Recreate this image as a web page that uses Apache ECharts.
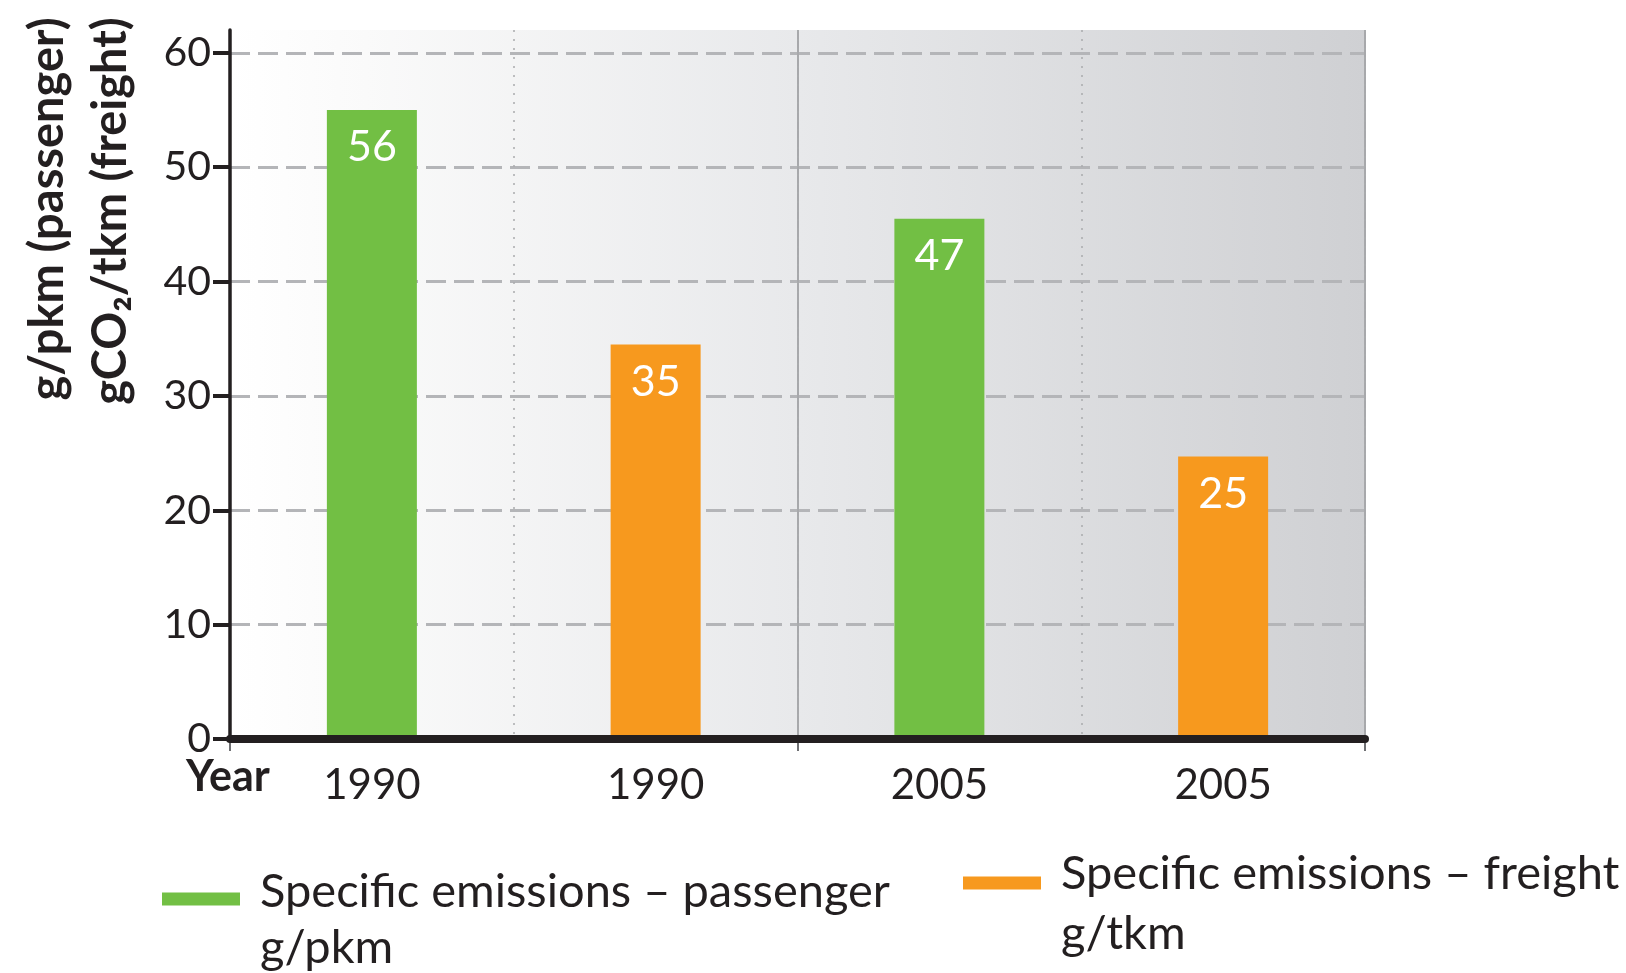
<!DOCTYPE html>
<html>
<head>
<meta charset="utf-8">
<script src="https://cdn.jsdelivr.net/npm/echarts@6/dist/echarts.min.js"></script>
<style>
  html, body { margin: 0; padding: 0; background: #ffffff; }
  #chart { width: 1626px; height: 973px; }
</style>
</head>
<body>
<div id="chart"></div>
<script>
// ---- data ----
var categories = ['1990', '1990', '2005', '2005'];
var groupYears = ['1990', '2005'];
var passengerValues = [55.0, null, 45.5, null];   // drawn bar heights
var freightValues = [null, 34.5, null, 24.7];     // drawn bar heights
var passengerPrinted = ['56', null, '47', null];  // printed labels
var freightPrinted = [null, '35', null, '25'];
var yTickMin = 0, yTickMax = 60, yTickStep = 10;  // labelled ticks
var yAxisTop = 62;                                // plot area reaches a little above 60
var yTitleLine1 = 'g/pkm (passenger)';
var yTitleLine2 = 'gCO\u2082/tkm (freight)';
var xTitle = 'Year';
var passengerName = 'Specific emissions \u2013 passenger\ng/pkm';
var freightName = 'Specific emissions \u2013 freight\ng/tkm';

var FONT = 'Lato, "Noto Sans", sans-serif';
var INK = '#231f20';
var GREEN = '#72bf44';
var ORANGE = '#f7991e';

var GRID_LEFT = 230, GRID_RIGHT = 261, GRID_TOP = 30, GRID_BOTTOM = 234, H = 973;
var plotH = H - GRID_TOP - GRID_BOTTOM;
var grid2Top = GRID_TOP + plotH * (yAxisTop - yTickMax) / (yAxisTop - yTickMin);

var chart = echarts.init(document.getElementById('chart'), null, { renderer: 'canvas' });

function legendText(lh) {
  return {
    fontFamily: FONT, fontSize: 47, color: INK, lineHeight: lh, padding: [0, 0, 0, 15],
    rich: {
      gap: { fontSize: 10, lineHeight: 42 },
      t: { fontFamily: FONT, fontSize: 47, color: INK, lineHeight: lh }
    }
  };
}
function legendFormatter(name) {
  var parts = name.split('\n');
  return '{gap| }\n' + parts.map(function (s) { return '{t|' + s + '}'; }).join('\n');
}

var option = {
  animation: false,
  backgroundColor: '#ffffff',
  textStyle: { fontFamily: FONT },
  grid: [
    {
      left: GRID_LEFT, right: GRID_RIGHT, top: GRID_TOP, bottom: GRID_BOTTOM,
      show: true,
      borderWidth: 0,
      backgroundColor: new echarts.graphic.LinearGradient(0, 0, 1, 0, [
        { offset: 0, color: '#ffffff' },
        { offset: 0.12, color: '#fafafa' },
        { offset: 0.5, color: '#e8e9eb' },
        { offset: 1, color: '#cfd0d3' }
      ])
    },
    {
      left: GRID_LEFT, right: GRID_RIGHT, top: grid2Top, bottom: GRID_BOTTOM,
      show: false
    }
  ],
  legend: [
    {
      data: [passengerName],
      left: 162, top: 822,
      padding: 0,
      itemWidth: 78, itemHeight: 13,
      icon: 'rect',
      selectedMode: false,
      formatter: legendFormatter,
      textStyle: legendText(56)
    },
    {
      data: [freightName],
      left: 963, top: 802,
      padding: 0,
      itemWidth: 78, itemHeight: 13,
      icon: 'rect',
      selectedMode: false,
      formatter: legendFormatter,
      textStyle: legendText(60)
    }
  ],
  xAxis: [
    {
      type: 'category',
      gridIndex: 0,
      data: categories,
      boundaryGap: true,
      axisLine: { show: true, lineStyle: { color: INK, width: 8 } },
      axisTick: { show: false },
      axisLabel: { fontFamily: FONT, fontSize: 42, color: INK, margin: 25 },
      splitLine: { show: true, lineStyle: { color: '#a9aaad', width: 1.5, type: [2, 7] } },
      z: 3
    },
    {
      type: 'category',
      gridIndex: 0,
      data: groupYears,
      position: 'bottom',
      boundaryGap: true,
      axisLine: { show: false },
      axisTick: { show: true, interval: 0, length: 12, lineStyle: { color: '#6f7073', width: 2 } },
      axisLabel: { show: false },
      splitLine: { show: true, lineStyle: { color: '#a7a8ab', width: 2, type: 'solid' } }
    },
    {
      type: 'category',
      gridIndex: 1,
      data: categories,
      show: false
    }
  ],
  yAxis: [
    {
      type: 'value',
      gridIndex: 0,
      min: yTickMin,
      max: yAxisTop,
      axisLine: { show: true, lineStyle: { color: INK, width: 3.5 } },
      axisTick: { show: false },
      axisLabel: { show: false },
      splitLine: { show: false },
      z: 4
    },
    {
      type: 'value',
      gridIndex: 1,
      min: yTickMin,
      max: yTickMax,
      interval: yTickStep,
      axisLine: { show: false },
      axisTick: { show: true, inside: false, length: 17, lineStyle: { color: INK, width: 4 } },
      axisLabel: { fontFamily: FONT, fontSize: 41, color: INK, margin: 19 },
      splitLine: { show: true, showMinLine: false, lineStyle: { color: '#b4b5b8', width: 3, type: [20, 8] } }
    }
  ],
  series: [
    {
      name: passengerName,
      type: 'bar',
      xAxisIndex: 0, yAxisIndex: 0,
      data: passengerValues,
      barWidth: 90,
      barGap: '-100%',
      itemStyle: { color: GREEN },
      label: {
        show: true, position: 'insideTop', distance: 16,
        color: '#ffffff', fontFamily: FONT, fontSize: 43,
        formatter: function (p) { return passengerPrinted[p.dataIndex] || ''; }
      },
      z: 2
    },
    {
      name: freightName,
      type: 'bar',
      xAxisIndex: 0, yAxisIndex: 0,
      data: freightValues,
      barWidth: 90,
      barGap: '-100%',
      itemStyle: { color: ORANGE },
      label: {
        show: true, position: 'insideTop', distance: 16,
        color: '#ffffff', fontFamily: FONT, fontSize: 43,
        formatter: function (p) { return freightPrinted[p.dataIndex] || ''; }
      },
      z: 2
    }
  ],
  graphic: [
    {
      type: 'text', x: 48, y: 209, rotation: Math.PI / 2,
      style: { text: yTitleLine1, font: 'bold 47px ' + FONT, fill: INK, align: 'center', verticalAlign: 'middle', textAlign: 'center', textVerticalAlign: 'middle' }
    },
    {
      type: 'text', x: 111, y: 211, rotation: Math.PI / 2,
      style: { text: yTitleLine2, font: 'bold 47px ' + FONT, fill: INK, align: 'center', verticalAlign: 'middle', textAlign: 'center', textVerticalAlign: 'middle' }
    },
    {
      type: 'text', x: 186, y: 777,
      style: { text: xTitle, font: 'bold 43px ' + FONT, fill: INK, align: 'left', verticalAlign: 'middle', textAlign: 'left', textVerticalAlign: 'middle' }
    }
  ]
};

chart.setOption(option);
</script>
</body>
</html>
